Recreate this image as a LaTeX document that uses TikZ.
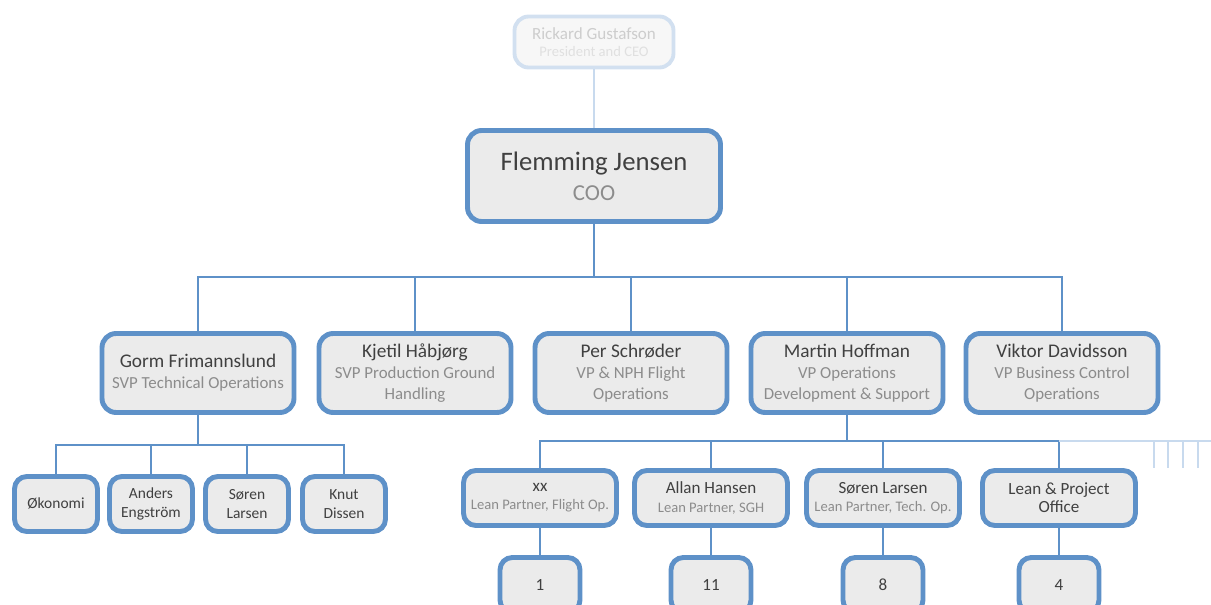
\documentclass[tikz,border=0pt]{standalone}
\usepackage{fontspec}
\setmainfont{Carlito}
\usepackage{tikz}
\usetikzlibrary{positioning}
\definecolor{mblue}{RGB}{94, 145, 200}
\definecolor{mfill}{RGB}{235, 235, 235}
\definecolor{mname}{RGB}{64, 64, 64}
\definecolor{mtitle}{RGB}{140, 140, 140}
\definecolor{fblue}{RGB}{210, 224, 240}
\definecolor{fline}{RGB}{200, 218, 238}
\definecolor{ftext}{RGB}{205, 205, 205}
\tikzset{box/.style = {draw = mblue, fill = mfill, line width = 2.8pt, rounded corners = 8pt,
                       align = flush center, inner sep = 0, text = mname}}
\tikzset{bigbox/.style = {box, minimum width = 5.06cm, minimum height = 1.82cm, text width = 4.8cm,
                          font = \fontsize{15.2}{17}\selectfont}}
\tikzset{midbox/.style = {box, minimum width = 3.84cm, minimum height = 1.58cm, text width = 3.7cm,
                          font = \fontsize{11}{12}\selectfont}}
\tikzset{leanbox/.style = {box, minimum width = 3.06cm, minimum height = 1.1cm, text width = 2.95cm,
                           rounded corners = 7pt, font = \fontsize{9.7}{10.4}\selectfont}}
\tikzset{smallbox/.style = {box, minimum width = 1.66cm, minimum height = 1.1cm, text width = 1.55cm,
                            rounded corners = 7pt, font = \fontsize{8.8}{10.8}\selectfont}}
\tikzset{numbox/.style = {box, minimum width = 1.6cm, minimum height = 1.1cm, text width = 1.5cm,
                          rounded corners = 7pt, font = \fontsize{9.7}{10.4}\selectfont}}
\tikzset{ceobox/.style = {box, draw = fblue, fill = white!97!black, line width = 2.2pt, text = ftext,
                          minimum width = 3.18cm, minimum height = 1.02cm, text width = 3cm,
                          font = \fontsize{9.7}{9.6}\selectfont}}
\tikzset{link/.style = {draw = mblue, line width = 0.8pt}}
\tikzset{fadelink/.style = {draw = fline, line width = 0.8pt}}
\newcommand{\ttl}[2]{{\color{mtitle}\fontsize{#1}{#1}\selectfont #2}}

\begin{document}
\begin{tikzpicture}[x = 0.02cm, y = -0.02cm]
    \useasboundingbox (0, 0) rectangle (1211, 605);

    \node [ceobox] (ceo) at (594, 42) {Rickard Gustafson\\
        {\color{white!88!black}\fontsize{8.3}{8.3}\selectfont President and CEO}};
    \node [bigbox] (coo) at (594, 176) {Flemming Jensen\\\ttl{13}{COO}};

    \node [midbox] (gorm) at (198, 373) {Gorm Frimannslund\\\ttl{9.6}{SVP Technical Operations}};
    \node [midbox] (kjetil) at (415, 373) {Kjetil Håbjørg\\\ttl{9.6}{SVP Production Ground}\\\ttl{9.6}{Handling}};
    \node [midbox] (per) at (631, 373) {Per Schrøder\\\ttl{9.6}{VP \& NPH Flight}\\\ttl{9.6}{Operations}};
    \node [midbox] (martin) at (847, 373) {Martin Hoffman\\\ttl{9.6}{VP Operations}\\\ttl{9.6}{Development \& Support}};
    \node [midbox] (viktor) at (1062, 373) {Viktor Davidsson\\\ttl{9.6}{VP Business Control}\\\ttl{9.6}{Operations}};

    \node [smallbox] (okonomi) at (56, 504) {Økonomi};
    \node [smallbox] (anders) at (151, 504) {Anders\\Engström};
    \node [smallbox] (soren) at (247, 504) {Søren\\Larsen};
    \node [smallbox] (knut) at (344, 504) {Knut\\Dissen};

    \node [leanbox] (xx) at (540, 498) {xx\\\ttl{8.3}{Lean Partner, Flight Op.}};
    \node [leanbox] (allan) at (711, 498) {Allan Hansen\\\ttl{8.3}{Lean Partner, SGH}};
    \node [leanbox] (sorenl) at (883, 498) {Søren Larsen\\\ttl{8.3}{Lean Partner, Tech. Op.}};
    \node [leanbox] (lean) at (1059, 498) {Lean \& Project\\Office};

    \node [numbox] (n1) at (540, 585) {1};
    \node [numbox] (n11) at (711, 585) {11};
    \node [numbox] (n8) at (883, 585) {8};
    \node [numbox] (n4) at (1059, 585) {4};

    \coordinate (top bus) at (594, 277);
    \coordinate (left bus) at (198, 445);
    \coordinate (right bus) at (847, 441);
    \coordinate (fade end) at (1211, 441);

    \draw [fadelink] (ceo.south) -- (coo.north);
    \draw [link] (coo.south) -- (top bus);
    \draw [link] (top bus) -| (gorm.north);
    \draw [link] (top bus) -| (kjetil.north);
    \draw [link] (top bus) -| (per.north);
    \draw [link] (top bus) -| (martin.north);
    \draw [link] (top bus) -| (viktor.north);

    \draw [link] (gorm.south) -- (left bus);
    \draw [link] (left bus) -| (okonomi.north);
    \draw [link] (left bus) -| (anders.north);
    \draw [link] (left bus) -| (soren.north);
    \draw [link] (left bus) -| (knut.north);

    \draw [link] (martin.south) -- (right bus);
    \draw [link] (right bus) -| (xx.north);
    \draw [link] (right bus) -| (allan.north);
    \draw [link] (right bus) -| (sorenl.north);
    \draw [link] (right bus) -| (lean.north);
    \draw [fadelink] (right bus -| lean.north) -- (fade end);
    \foreach \x in {1154, 1168, 1183, 1198}
        \draw [fadelink] (\x, 441) -- (\x, 468);

    \draw [link] (xx.south) -- (n1.north);
    \draw [link] (allan.south) -- (n11.north);
    \draw [link] (sorenl.south) -- (n8.north);
    \draw [link] (lean.south) -- (n4.north);
\end{tikzpicture}
\end{document}
